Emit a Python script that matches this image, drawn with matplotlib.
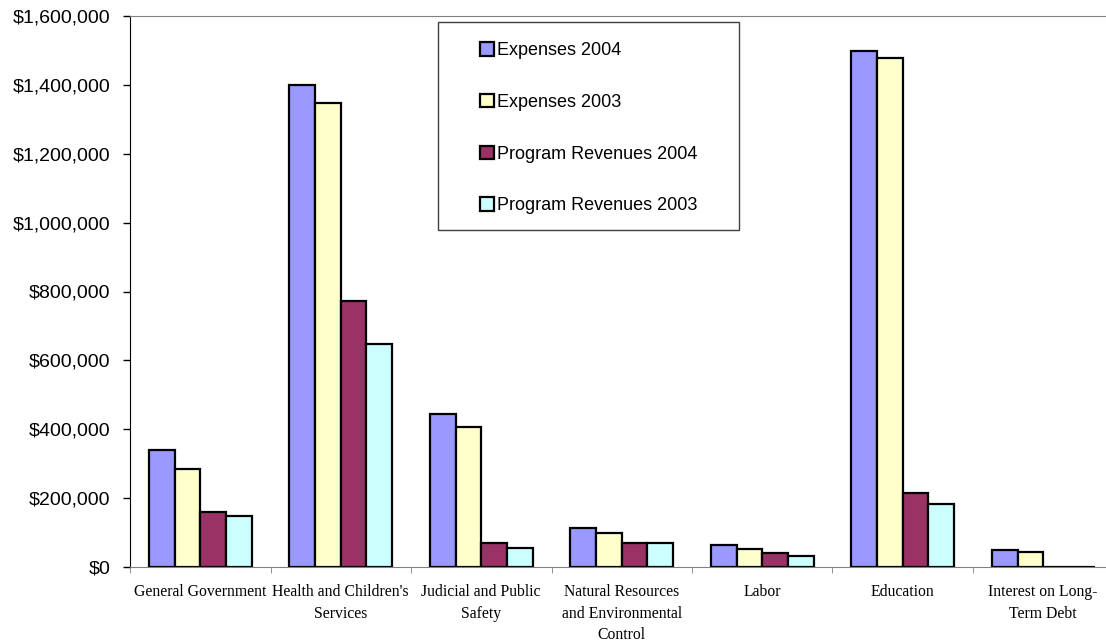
import numpy as np
import matplotlib.pyplot as plt
from matplotlib.patches import Rectangle
from matplotlib.ticker import FuncFormatter

categories = ["General Government", "Health and Children's\nServices", "Judicial and Public\nSafety",
              "Natural Resources\nand Environmental\nControl", "Labor", "Education",
              "Interest on Long-\nTerm Debt"]
series = ["Expenses 2004", "Expenses 2003", "Program Revenues 2004", "Program Revenues 2003"]
exp_2004 = [340000, 1400000, 444000, 113000, 64000, 1499000, 50000]
exp_2003 = [285000, 1347000, 407000, 99000, 51000, 1478000, 44000]
rev_2004 = [160000, 771000, 71000, 70000, 40000, 215000, 0]
rev_2003 = [149000, 648000, 56000, 71000, 32000, 183000, 0]
colors = ["#9999FF", "#FFFFCC", "#993366", "#CCFFFF"]

fig = plt.figure(figsize=(11.06, 6.44), dpi=100)
ax = fig.add_axes([130/1106, 77/644, 983.5/1106, 551/644])

x = np.arange(len(categories))
w = 0.183
data = [exp_2004, exp_2003, rev_2004, rev_2003]
handles = []
for i, vals in enumerate(data):
    b = ax.bar(x + (i - 1.5) * w, vals, w, color=colors[i], edgecolor="black", linewidth=1.6,
               label=series[i])
    handles.append(b)

ax.set_xlim(-0.5, len(categories) - 0.5)
ax.set_ylim(0, 1600000)
ax.set_yticks(np.arange(0, 1600001, 200000))
ax.yaxis.set_major_formatter(FuncFormatter(lambda v, p: "${:,.0f}".format(v)))
for lab in ax.get_yticklabels():
    lab.set_fontfamily("Liberation Sans")
    lab.set_fontsize(14)
ax.tick_params(axis="y", direction="out", length=5, width=1, pad=9)

ax.set_xticks(x)
ax.set_xticklabels(categories, fontfamily="Liberation Serif", fontsize=11.3, linespacing=1.44,
                   va="top")
ax.set_xticks(np.arange(-0.5, len(categories), 1), minor=True)
ax.tick_params(axis="x", which="major", length=0, pad=12.5)
ax.tick_params(axis="x", which="minor", direction="out", length=4, color="#808080")

ax.spines["right"].set_visible(False)
ax.spines["top"].set_color("#808080")
ax.spines["bottom"].set_color("#808080")
ax.spines["left"].set_color("black")

# legend box
fig.patches.append(Rectangle((438/1106, 1 - 230/644), 301/1106, 208/644, transform=fig.transFigure,
                             facecolor="white", edgecolor="#404040", linewidth=1, zorder=3))
leg = fig.legend(handles=handles, loc="upper left", bbox_to_anchor=(464/1106, 1 - 26/644),
                 frameon=False, prop={"family": "Liberation Sans", "size": 13},
                 handlelength=0.75, handleheight=0.75, handletextpad=0.2, labelspacing=1.92)
leg.set_zorder(4)

fig.savefig("out.png", dpi=100)
